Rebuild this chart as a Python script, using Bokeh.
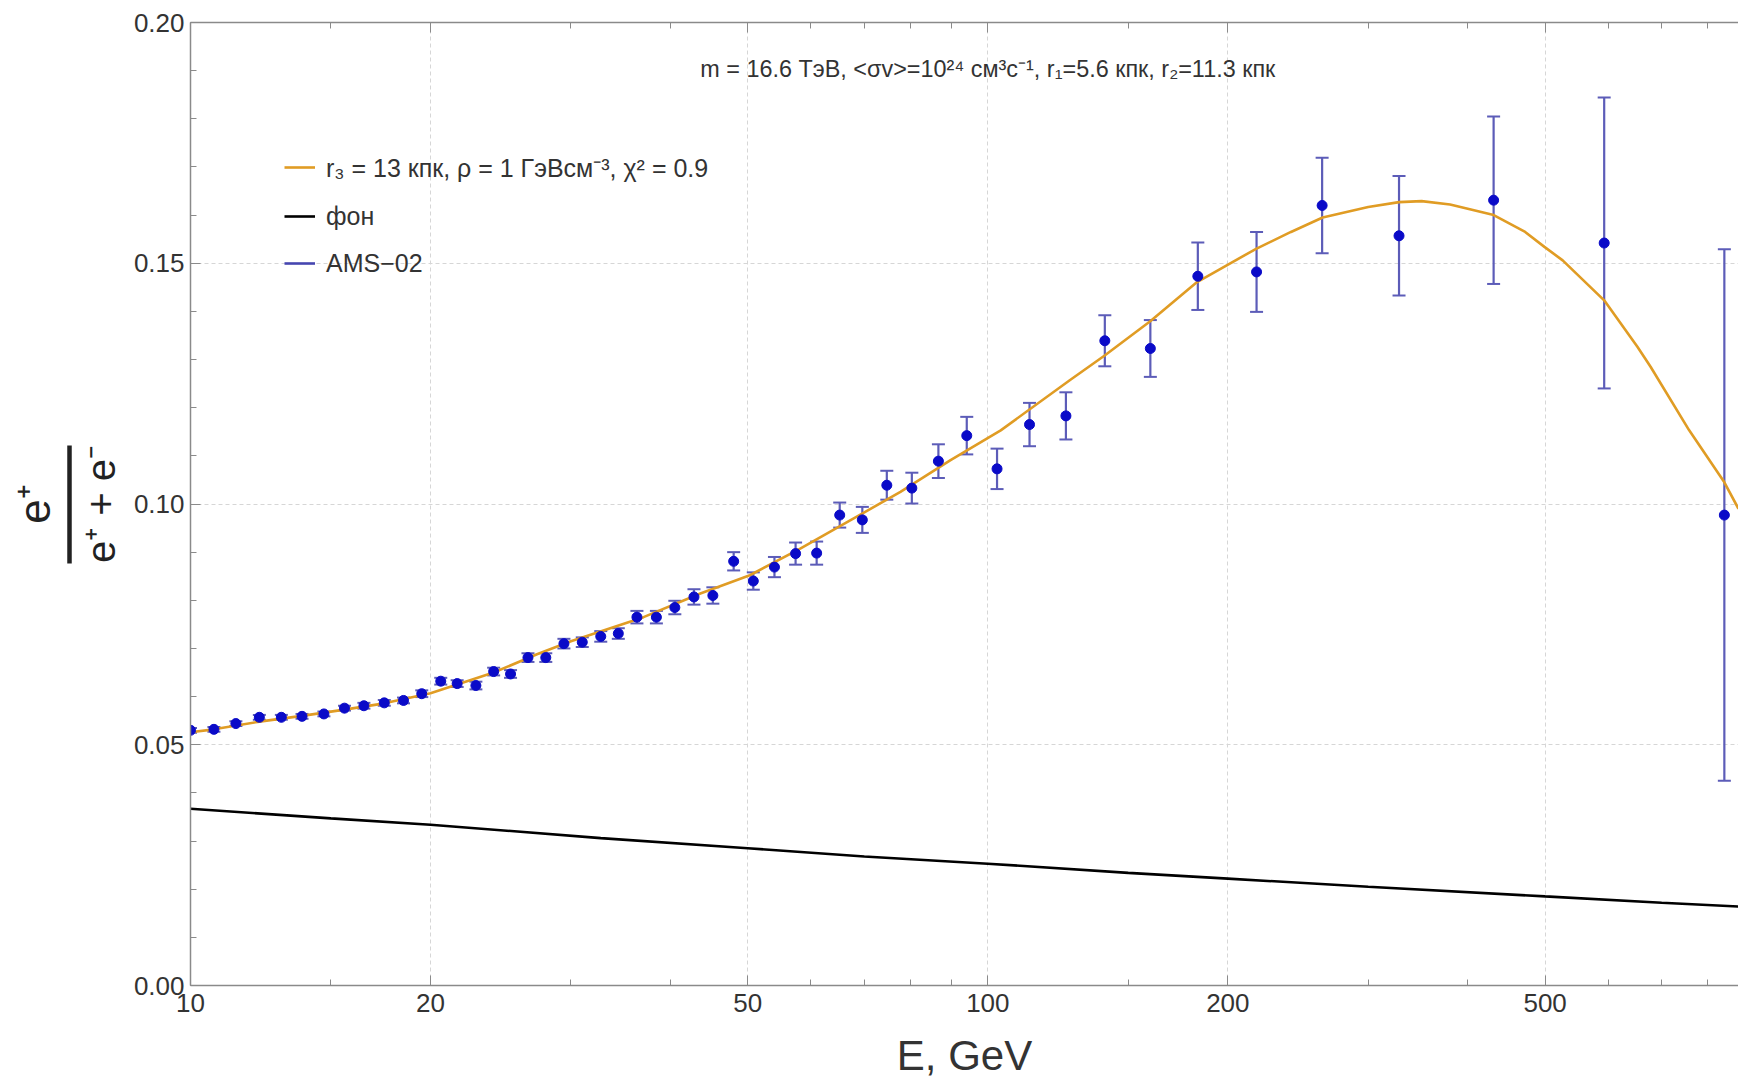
from bokeh.plotting import figure
from bokeh.models import (Range1d, FixedTicker, NumeralTickFormatter, LogAxis, LinearAxis,
                          ColumnDataSource, Whisker, TeeHead, Label, Legend, LegendItem,
                          CustomJSTickFormatter)
from bokeh.embed import file_html
from bokeh.resources import INLINE

# ---------------- data ----------------
ams_energy = [10.0, 10.7, 11.4, 12.2, 13.0, 13.8, 14.7, 15.6, 16.5, 17.5, 18.5, 19.5,
              20.6, 21.6, 22.8, 24.0, 25.2, 26.5, 27.9, 29.4, 31.0, 32.7, 34.4, 36.3,
              38.4, 40.5, 42.8, 45.2, 48.0, 50.8, 54.0, 57.4, 61.0, 65.2, 69.6, 74.7,
              80.3, 86.7, 94.1, 102.7, 112.8, 125.3, 140.2, 159.9, 183.4, 217.3, 262.6,
              327.9, 430.9, 593.0, 839.0]
ams_fraction = [0.0530, 0.0532, 0.0544, 0.0557, 0.0557, 0.0559, 0.0564, 0.0576, 0.0581, 0.0587,
                0.0592, 0.0606, 0.0632, 0.0627, 0.0623, 0.0652, 0.0647, 0.0681, 0.0681, 0.0710,
                0.0713, 0.0725, 0.0731, 0.0765, 0.0765, 0.0785, 0.0807, 0.0810, 0.0881, 0.0840,
                0.0869, 0.0897, 0.0898, 0.0977, 0.0967, 0.1039, 0.1033, 0.1089, 0.1142, 0.1073,
                0.1165, 0.1183, 0.1339, 0.1323, 0.1473, 0.1482, 0.1620, 0.1557, 0.1631, 0.1542,
                0.0977]
ams_error = [0.0005, 0.0005, 0.0005, 0.0005, 0.0005, 0.0005, 0.0005, 0.0005, 0.0006, 0.0006,
             0.0006, 0.0007, 0.0007, 0.0007, 0.0008, 0.0008, 0.0008, 0.0009, 0.0009, 0.0010,
             0.0010, 0.0011, 0.0011, 0.0013, 0.0013, 0.0014, 0.0016, 0.0017, 0.0019, 0.0018,
             0.0021, 0.0023, 0.0024, 0.0026, 0.0027, 0.0030, 0.0032, 0.0035, 0.0039, 0.0042,
             0.0045, 0.0049, 0.0053, 0.0059, 0.0070, 0.0083, 0.0099, 0.0124, 0.0174, 0.0302,
             0.0552]

model_energy = [10, 10.7, 12.2, 13.8, 15.6, 17.5, 20, 24, 27.2, 30, 37, 43.6, 50.3, 58.1, 67.2,
                77.7, 89.8, 103.8, 126.7, 140, 160, 183, 217, 240, 263, 300, 328, 350, 380,
                431, 472, 499, 526, 593, 653, 678, 758, 839, 874]
model_fraction = [0.0526, 0.0532, 0.0548, 0.0560, 0.0573, 0.0586, 0.0607, 0.0650, 0.0688, 0.0715,
                  0.0765, 0.0814, 0.0852, 0.0907, 0.0966, 0.1025, 0.1091, 0.1153, 0.1257, 0.1308,
                  0.1380, 0.1461, 0.1530, 0.1565, 0.1595, 0.1617, 0.1627, 0.1629, 0.1622,
                  0.1600, 0.1565, 0.1534, 0.1506, 0.1423, 0.1326, 0.1285, 0.1153, 0.1045, 0.0990]

bg_energy = [10, 15, 20, 32.7, 50, 70, 100, 150, 200, 300, 500, 700, 874]
bg_fraction = [0.0367, 0.0347, 0.0334, 0.0306, 0.0285, 0.0268, 0.0253, 0.0234, 0.0222,
               0.0205, 0.0185, 0.0172, 0.0164]

x_ticks = [10, 20, 50, 100, 200, 500]
x_minor = [15, 30, 40, 60, 70, 80, 90, 150, 300, 400, 600, 700, 800]
y_ticks = [0.0, 0.05, 0.10, 0.15, 0.20]
y_minor = [0.01 * i for i in range(21)]

legend_labels = ["r₃ = 13 кпк, ρ = 1 ГэВсм⁻³, χ² = 0.9", "фон", "AMS−02"]
note_text = "m = 16.6 ТэВ, <σv>=10²⁴ см³с⁻¹, r₁=5.6 кпк, r₂=11.3 кпк"
x_title = "E, GeV"
y_num = "e⁺"
y_den = "e⁺ + e⁻"

FONT = "Liberation Sans"
ORANGE = "#E09C24"
POINT = "#0A0AC8"
BAR = "#5C5CB8"
AXIS = "#8a8a8a"
TXT = "#333333"
INK = "#222222"

p = figure(width=1738, height=1081, x_axis_type="log",
           x_range=Range1d(10, 874), y_range=Range1d(0, 0.2),
           output_backend="svg", toolbar_location=None,
           min_border_left=190, min_border_right=0, min_border_top=22, min_border_bottom=96)
p.outline_line_color = None
p.extra_y_ranges = {"hidden": Range1d(1, 2)}

# axes
xa = p.xaxis[0]
xa.ticker = FixedTicker(ticks=x_ticks, minor_ticks=x_minor)
xa.formatter = NumeralTickFormatter(format="0")
ya = p.yaxis[0]
ya.ticker = FixedTicker(ticks=y_ticks, minor_ticks=y_minor)
ya.formatter = NumeralTickFormatter(format="0.00")
for ax in (xa, ya):
    ax.axis_line_color = AXIS
    ax.axis_line_width = 1.5
    ax.major_tick_line_color = AXIS
    ax.minor_tick_line_color = AXIS
    ax.major_tick_in = 10
    ax.major_tick_out = 0
    ax.minor_tick_in = 6
    ax.minor_tick_out = 0
    ax.major_label_text_font = FONT
    ax.major_label_text_font_size = "26px"
    ax.major_label_text_color = TXT
xa.major_label_standoff = 8
ya.major_label_standoff = 6

# x title
xa.axis_label = x_title
xa.axis_label_text_font = FONT
xa.axis_label_text_font_size = "42px"
xa.axis_label_text_font_style = "normal"
xa.axis_label_text_color = TXT
xa.axis_label_standoff = 17

# y title: denominator as the axis label of the main y axis
ya.axis_label = y_den
ya.axis_label_text_font = FONT
ya.axis_label_text_font_size = "40px"
ya.axis_label_text_font_style = "normal"
ya.axis_label_text_color = INK
ya.axis_label_standoff = 8

blank = CustomJSTickFormatter(code="return ''")

# narrow spacer panel between the denominator and the fraction bar
# (one white tick near the bottom gives it its width)
spacer = LinearAxis(ticker=FixedTicker(ticks=[0.005]), formatter=blank,
                    axis_line_color=None, major_tick_line_color="white",
                    minor_tick_line_color=None,
                    major_tick_in=0, major_tick_out=6, minor_tick_in=0, minor_tick_out=0,
                    major_label_standoff=0)
p.add_layout(spacer, "left")

# fraction bar (axis rule limited by bounds) with the numerator as its label
bar_axis = LinearAxis(ticker=FixedTicker(ticks=[]), bounds=(0.0877, 0.1122), formatter=blank,
                      axis_line_color=INK, axis_line_width=4.5,
                      major_tick_line_color=None, minor_tick_line_color=None,
                      major_tick_in=0, major_tick_out=0, minor_tick_in=0, minor_tick_out=0,
                      major_label_standoff=0,
                      axis_label=y_num, axis_label_standoff=11,
                      axis_label_text_font=FONT, axis_label_text_font_size="44px",
                      axis_label_text_font_style="normal", axis_label_text_color=INK)
p.add_layout(bar_axis, "left")

top = LogAxis(ticker=FixedTicker(ticks=x_ticks, minor_ticks=x_minor),
              formatter=blank, major_label_standoff=0,
              axis_line_color=AXIS, axis_line_width=1.5,
              major_tick_line_color=AXIS, minor_tick_line_color=AXIS,
              major_tick_in=10, major_tick_out=0, minor_tick_in=6, minor_tick_out=0)
p.add_layout(top, "above")

for g in (p.xgrid[0], p.ygrid[0]):
    g.grid_line_color = "#d6d6d6"
    g.grid_line_width = 1
    g.grid_line_dash = "4 3"
p.xgrid[0].ticker = FixedTicker(ticks=x_ticks)
p.ygrid[0].ticker = FixedTicker(ticks=y_ticks)

# background and model curves
bg = p.line(bg_energy, bg_fraction, line_color="black", line_width=2.6)
model = p.line(model_energy, model_fraction, line_color=ORANGE, line_width=2.6)

# AMS-02 data with error bars
src = ColumnDataSource(dict(
    x=ams_energy, y=ams_fraction,
    upper=[v + e for v, e in zip(ams_fraction, ams_error)],
    lower=[v - e for v, e in zip(ams_fraction, ams_error)],
))
wh = Whisker(source=src, base="x", upper="upper", lower="lower", dimension="height",
             line_color=BAR, line_width=2.2,
             upper_head=TeeHead(size=13, line_color=BAR, line_width=2),
             lower_head=TeeHead(size=13, line_color=BAR, line_width=2))
p.add_layout(wh)
p.scatter("x", "y", source=src, marker="circle", size=10, fill_color=POINT, line_color=POINT)
# legend swatch for the data: same data on a range where it falls outside the frame
ams_leg = p.line("x", "y", source=src, y_range_name="hidden", line_color="#4646B0", line_width=2.6)

legend = Legend(items=[LegendItem(label=legend_labels[0], renderers=[model]),
                       LegendItem(label=legend_labels[1], renderers=[bg]),
                       LegendItem(label=legend_labels[2], renderers=[ams_leg])],
                location=(94, 707), background_fill_alpha=0, border_line_color=None,
                padding=5, margin=0, spacing=17, glyph_width=31, glyph_height=30,
                label_height=30, label_standoff=11, label_text_font=FONT,
                label_text_font_size="25px", label_text_color=TXT)
p.add_layout(legend)

# top annotation
p.add_layout(Label(x=100, y=0.1903, text=note_text, text_align="center", text_baseline="middle",
                   text_font=FONT, text_font_size="23.4px", text_color=TXT))

open("out.html", "w").write(file_html(p, INLINE))
